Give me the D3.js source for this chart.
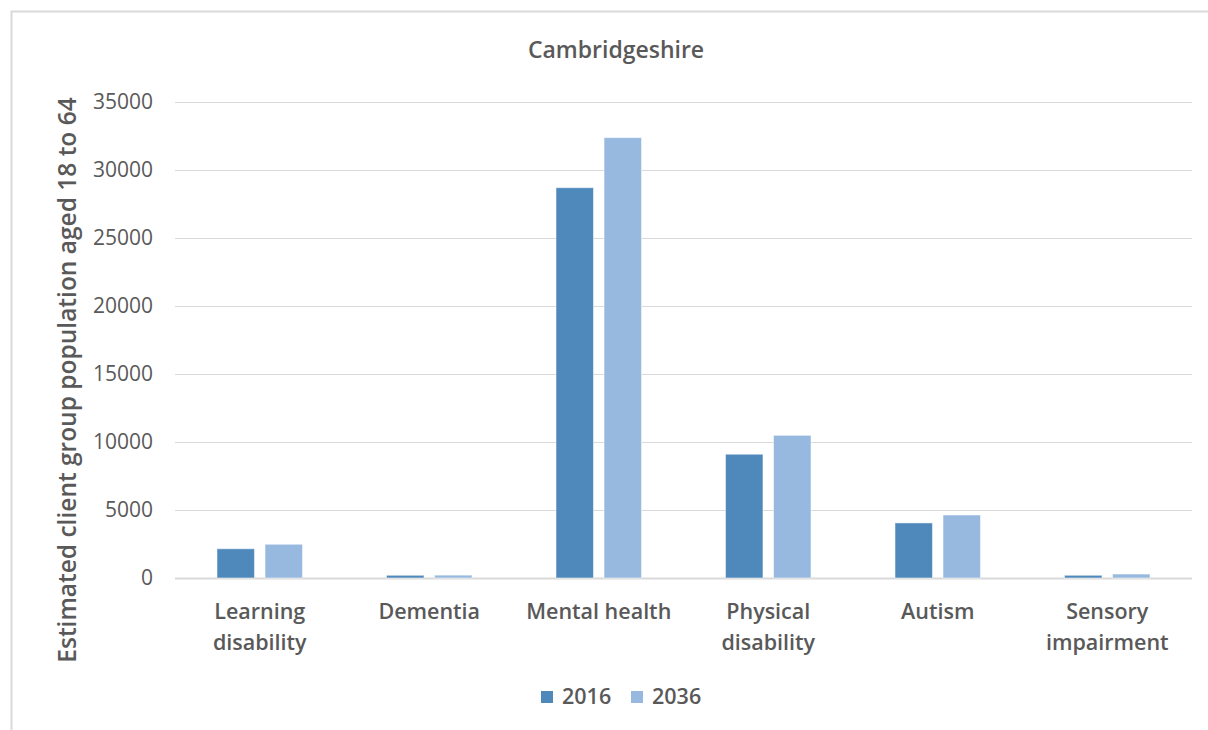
<!DOCTYPE html>
<html>
<head>
<meta charset="utf-8">
<script src="https://cdn.jsdelivr.net/npm/d3@7"></script>
<style>
  html, body { margin: 0; padding: 0; background: #fff; }
  svg { display: block; font-family: "Open Sans", sans-serif; }
</style>
</head>
<body>
<svg id="chart" width="1208" height="730"></svg>
<script>
// Client groups (line breaks mark where each label wraps)
const categories = [
  ["Learning", "disability"],
  ["Dementia"],
  ["Mental health"],
  ["Physical", "disability"],
  ["Autism"],
  ["Sensory", "impairment"]
];
const seriesNames = ["2016", "2036"];
const values2016 = [2150, 200, 28700, 9100, 4050, 200];
const values2036 = [2480, 210, 32380, 10490, 4630, 290];
const yTicks = [0, 5000, 10000, 15000, 20000, 25000, 30000, 35000];
const colors = ["#4f89bc", "#97b8df"];

const svg = d3.select("#chart");
const margin = { left: 175, right: 16, top: 102, bottom: 152 };
const W = 1208, H = 730;

// Outer frame
svg.append("rect")
  .attr("x", 11.5).attr("y", 11.5)
  .attr("width", 1220).attr("height", 740)
  .attr("fill", "#fff").attr("stroke", "#d9d9d9").attr("stroke-width", 2);

const x0 = d3.scaleBand()
  .domain(d3.range(categories.length))
  .range([margin.left, W - margin.right])
  .paddingInner(0).paddingOuter(0);

const x1 = d3.scaleBand()
  .domain(seriesNames)
  .range([42, x0.bandwidth() - 42])
  .paddingInner(0.22);

const y = d3.scaleLinear().domain([0, 35000]).range([H - margin.bottom, margin.top]);

// Gridlines
svg.append("g").selectAll("line").data(yTicks).join("line")
  .attr("x1", margin.left).attr("x2", W - margin.right)
  .attr("y1", d => Math.round(y(d)) + 0.5).attr("y2", d => Math.round(y(d)) + 0.5)
  .attr("stroke", "#d9d9d9")
  .attr("stroke-width", d => d === 0 ? 2 : 1.2);

// Y axis tick labels
const yAxis = d3.axisLeft(y).tickValues(yTicks).tickSize(0).tickPadding(0).tickFormat(d3.format("d"));
const gy = svg.append("g").attr("transform", `translate(${margin.left - 22},0)`).call(yAxis);
gy.select(".domain").remove();
gy.selectAll("text")
  .attr("font-family", "Open Sans, sans-serif")
  .attr("font-size", 21)
  .attr("fill", "#595959");

// Bars
const table = categories.map((c, i) => ({ i, vals: [values2016[i], values2036[i]] }));
const groups = svg.append("g").selectAll("g").data(table).join("g")
  .attr("transform", d => `translate(${x0(d.i)},0)`);
groups.selectAll("rect").data(d => d.vals.map((v, k) => ({ k, v }))).join("rect")
  .attr("x", d => x1(seriesNames[d.k]))
  .attr("width", x1.bandwidth())
  .attr("y", d => y(d.v))
  .attr("height", d => y(0) - y(d.v))
  .attr("fill", d => colors[d.k])
  .attr("stroke", "#ffffff").attr("stroke-opacity", 0.5).attr("stroke-width", 1);

// Category labels
const catG = svg.append("g");
categories.forEach((lines, i) => {
  const cx = x0(i) + x0.bandwidth() / 2;
  const t = catG.append("text")
    .attr("x", cx)
    .attr("y", 619)
    .attr("text-anchor", "middle")
    .attr("font-size", 21.5).attr("font-weight", 600)
    .attr("fill", "#595959");
  lines.forEach((ln, j) => {
    t.append("tspan").attr("x", cx).attr("dy", j === 0 ? 0 : 31).text(ln);
  });
});

// Title
svg.append("text")
  .attr("x", 616).attr("y", 58)
  .attr("text-anchor", "middle")
  .attr("font-size", 23).attr("font-weight", 600)
  .attr("fill", "#595959")
  .text("Cambridgeshire");

// Y axis title
svg.append("text")
  .attr("transform", `translate(76,380) rotate(-90)`)
  .attr("text-anchor", "middle")
  .attr("font-size", 24.5).attr("font-weight", 600)
  .attr("fill", "#595959")
  .text("Estimated client group population aged 18 to 64");

// Legend
const legendItems = [
  { name: seriesNames[0], color: colors[0], x: 541 },
  { name: seriesNames[1], color: colors[1], x: 631 }
];
const lg = svg.append("g").selectAll("g").data(legendItems).join("g")
  .attr("transform", d => `translate(${d.x},691)`);
lg.append("rect").attr("width", 12).attr("height", 12).attr("fill", d => d.color);
lg.append("text").attr("x", 21).attr("y", 13)
  .attr("font-size", 21.5).attr("font-weight", 600)
  .attr("fill", "#595959")
  .text(d => d.name);
</script>
</body>
</html>
